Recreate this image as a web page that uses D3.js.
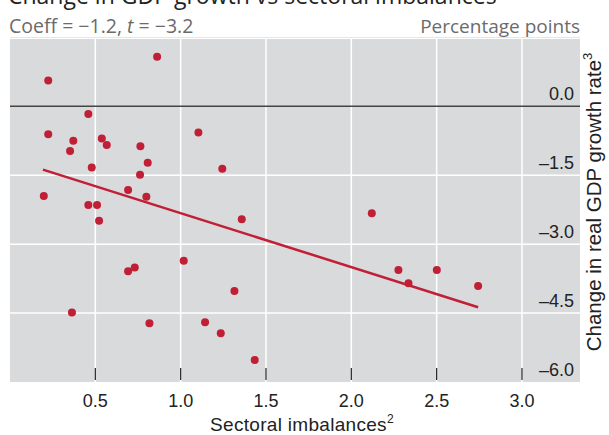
<!DOCTYPE html>
<html>
<head>
<meta charset="utf-8">
<script src="https://cdn.jsdelivr.net/npm/d3@7"></script>
<style>
  html, body { margin: 0; padding: 0; background: #fff; }
  svg { display: block; }
</style>
</head>
<body>
<svg id="chart" width="609" height="435"></svg>
<script>
// ---- data ----
const imbalances = [0.862, 0.224, 0.459, 0.224, 0.371, 0.352, 0.538, 0.567, 0.764, 1.104,
                    0.807, 0.479, 0.762, 1.244, 0.692, 0.799, 0.198, 0.459, 0.510, 0.522,
                    1.358, 1.018, 0.692, 0.731, 1.315, 0.363, 0.817, 1.143, 1.235, 1.434,
                    2.120, 2.276, 2.335, 2.501, 2.743];
const gdpChange = [1.08, 0.56, -0.17, -0.61, -0.75, -0.97, -0.70, -0.84, -0.87, -0.57,
                   -1.23, -1.33, -1.49, -1.36, -1.82, -1.97, -1.95, -2.15, -2.15, -2.49,
                   -2.46, -3.36, -3.59, -3.51, -4.02, -4.49, -4.72, -4.70, -4.94, -5.52,
                   -2.33, -3.56, -3.85, -3.56, -3.91];
const fitX = [0.193, 2.743];
const fitY = [-1.377, -4.372];
const xTicks = [0.5, 1.0, 1.5, 2.0, 2.5, 3.0];
const yTicks = [0.0, -1.5, -3.0, -4.5, -6.0];
const titleText = "Change in GDP growth vs sectoral imbalances";
const subLeft = ["Coeff = \u22121.2, ", "t", " = \u22123.2"];
const subRight = "Percentage points";
const xTitle = "Sectoral imbalances";
const yTitle = "Change in real GDP growth rate";

// ---- layout ----
const svg = d3.select("#chart");
const panel = { left: 10, right: 580, top: 39, bottom: 382 };
const x = d3.scaleLinear().domain([0, 3.34]).range([panel.left, panel.right]);
const y = d3.scaleLinear().domain([-6.0, 1.465]).range([panel.bottom, panel.top]);
const red = "#c01f36";
const fontSans = "'Liberation Sans', Arial, Helvetica, sans-serif";
const fontHead = "'Open Sans', 'Noto Sans', sans-serif";

// title (cut at top)
svg.append("text").attr("x", 8).attr("y", 4)
  .attr("font-family", fontHead).attr("font-size", 23).attr("fill", "#222")
  .text(titleText);

// subtitle row
const st = svg.append("text").attr("x", 9).attr("y", 33)
  .attr("font-family", fontHead).attr("font-size", 19.5).attr("fill", "#6b6b6b");
st.append("tspan").text(subLeft[0]);
st.append("tspan").attr("font-style", "italic").text(subLeft[1]);
st.append("tspan").text(subLeft[2]);
svg.append("text").attr("x", 580).attr("y", 33).attr("text-anchor", "end")
  .attr("font-family", fontHead).attr("font-size", 19).attr("fill", "#6b6b6b")
  .text(subRight);
svg.append("line").attr("x1", 10).attr("x2", 580).attr("y1", 37.5).attr("y2", 37.5)
  .attr("stroke", "#e6e6e6").attr("stroke-width", 1);

// panel
svg.append("rect").attr("x", panel.left).attr("y", panel.top)
  .attr("width", panel.right - panel.left).attr("height", panel.bottom - panel.top)
  .attr("fill", "#d9dadc");

// grid
svg.append("g").selectAll("line").data(xTicks.filter(d => d < 3.34)).join("line")
  .attr("x1", d => x(d)).attr("x2", d => x(d))
  .attr("y1", panel.top).attr("y2", panel.bottom)
  .attr("stroke", "#fff").attr("stroke-width", 1.5);
svg.append("g").selectAll("line").data(yTicks.filter(d => d !== 0 && d > -6)).join("line")
  .attr("x1", panel.left).attr("x2", panel.right)
  .attr("y1", d => y(d)).attr("y2", d => y(d))
  .attr("stroke", "#fff").attr("stroke-width", 1.5);
// zero line
svg.append("line").attr("x1", panel.left).attr("x2", panel.right)
  .attr("y1", y(0)).attr("y2", y(0)).attr("stroke", "#444").attr("stroke-width", 1.6);

// x ticks inside panel bottom
svg.append("g").selectAll("line").data(xTicks).join("line")
  .attr("x1", d => x(d)).attr("x2", d => x(d))
  .attr("y1", panel.bottom - 14).attr("y2", panel.bottom - 2)
  .attr("stroke", "#222").attr("stroke-width", 1.2);

// x tick labels
svg.append("g").selectAll("text").data(xTicks).join("text")
  .attr("x", d => x(d)).attr("y", 407).attr("text-anchor", "middle")
  .attr("font-family", fontSans).attr("font-size", 18).attr("fill", "#222")
  .text(d => d3.format(".1f")(d));

// y tick labels
svg.append("g").selectAll("text").data(yTicks).join("text")
  .attr("x", 574).attr("y", d => y(d) - 6).attr("text-anchor", "end")
  .attr("font-family", fontSans).attr("font-size", 18).attr("fill", "#222")
  .text(d => d === 0 ? "0.0" : "\u2013" + d3.format(".1f")(-d));

// axis titles
const xt = svg.append("text").attr("x", 302).attr("y", 431).attr("text-anchor", "middle")
  .attr("font-family", fontSans).attr("font-size", 19).attr("letter-spacing", 0.3).attr("fill", "#222");
xt.append("tspan").text(xTitle);
xt.append("tspan").attr("font-size", 12).attr("dy", -8).text("2");

const yt = svg.append("text").attr("transform", "translate(601,202) rotate(-90)")
  .attr("text-anchor", "middle")
  .attr("font-family", fontSans).attr("font-size", 20.5).attr("fill", "#222");
yt.append("tspan").text(yTitle);
yt.append("tspan").attr("font-size", 13).attr("dy", -9).text("3");

// regression line
svg.append("line")
  .attr("x1", x(fitX[0])).attr("y1", y(fitY[0]))
  .attr("x2", x(fitX[1])).attr("y2", y(fitY[1]))
  .attr("stroke", red).attr("stroke-width", 2.5);

// points
svg.append("g").selectAll("circle").data(imbalances.map((v, i) => [v, gdpChange[i]])).join("circle")
  .attr("cx", d => x(d[0])).attr("cy", d => y(d[1])).attr("r", 4)
  .attr("fill", red);
</script>
</body>
</html>
